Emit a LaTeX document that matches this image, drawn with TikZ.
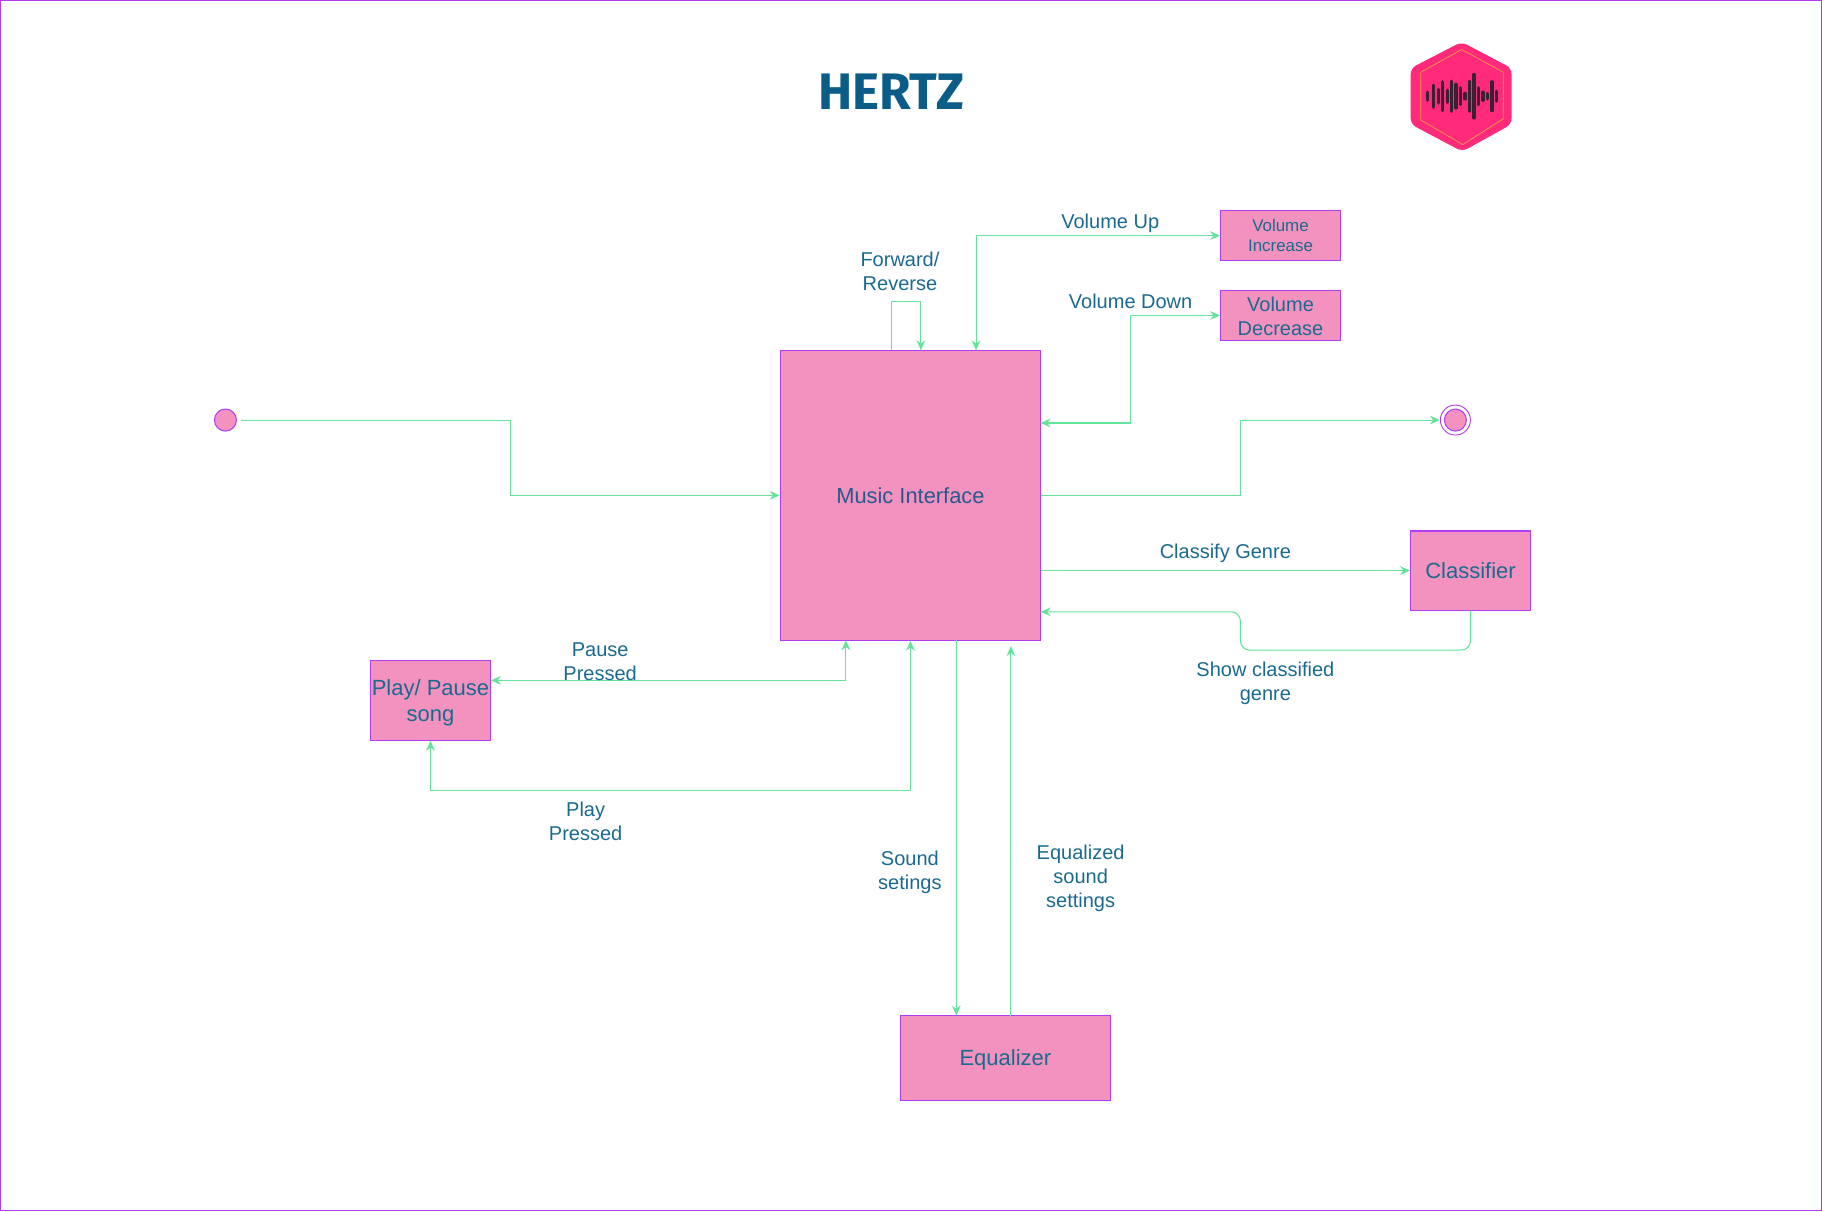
\documentclass[tikz,border=0pt]{standalone}
\usepackage{fontspec}
\setmainfont{Liberation Sans}
\newfontfamily\titlefont{Fira Sans}
\usetikzlibrary{arrows.meta}
\definecolor{pinkfill}{HTML}{F492BF}
\definecolor{purpleline}{HTML}{B03DF2}
\definecolor{greenline}{HTML}{66E39B}
\definecolor{textblue}{HTML}{1A6A8F}
\definecolor{mainblue}{HTML}{27598F}
\definecolor{titleblue}{HTML}{0B5C87}
\definecolor{logopink}{HTML}{FF2A7A}
\definecolor{logoorange}{HTML}{F0924A}
\definecolor{logodark}{HTML}{3A2032}
\tikzset{
  boxnode/.style={draw=purpleline,fill=pinkfill,line width=0.8pt,inner sep=0pt,align=center,text=textblue},
  dotnode/.style={circle,draw=purpleline,fill=pinkfill,line width=0.8pt,inner sep=0pt},
  lab/.style={align=center,text=textblue,inner sep=0pt,font=\fontsize{15}{18}\selectfont},
  conn/.style={draw=greenline,line width=0.8pt,-{Stealth[length=7.5pt,width=6.5pt]}},
  connboth/.style={draw=greenline,line width=0.8pt,{Stealth[length=7.5pt,width=6.5pt]}-{Stealth[length=7.5pt,width=6.5pt]}},
}
\begin{document}
\begin{tikzpicture}[x=0.8715pt,y=-0.8715pt]
\useasboundingbox (0,0) rectangle (1568,1042.2);
\draw[purpleline,line width=0.9pt] (0.5,0.5) rectangle (1567.5,1041.7);

\node[inner sep=0pt,text=titleblue,font=\titlefont\bfseries\fontsize{38.5}{42}\selectfont] (title) at (767,78.5) {HERTZ};

% logo
\begin{scope}[shift={(1257.3,82.8)},x=0.25pt,y=-0.25pt]
  \fill[logopink,rounded corners=4.5pt] (2,-163) -- (152,-84) -- (152,84) -- (4,166) -- (-151,84) -- (-151,-84) -- cycle;
  \draw[logoorange,line width=0.6pt] (2,-140) -- (127,-72) -- (127,68) -- (5,145) -- (-121,71) -- (-121,-72) -- cycle;
  \foreach \bx/\bh in {-100/12,-83/33,-68/20,-55/43,-41/18,-28/45,-15/35,-2/25,12/8,25/45,39/65,53/25,66/12,79/8,93/43,106/15}{
    \draw[logodark,line width=2.5pt,line cap=round] (\bx,-\bh) -- (\bx,\bh);
  }
\end{scope}

% nodes
\node[boxnode,minimum width=195.2pt,minimum height=217.4pt,font=\fontsize{16.4}{20}\selectfont,text=mainblue] (main) at (783.5,426.25) {Music Interface};
\node[boxnode,minimum width=89.8pt,minimum height=37pt,font=\fontsize{12.7}{15}\selectfont] (vinc) at (1102,202.75) {Volume\\Increase};
\node[boxnode,minimum width=89.8pt,minimum height=37.5pt,font=\fontsize{15}{18}\selectfont] (vdec) at (1102,271.5) {\rule{0pt}{12.4pt}Volume\\Decrease};
\node[boxnode,minimum width=89.8pt,minimum height=59.3pt,font=\fontsize{16.5}{20}\selectfont] (classifier) at (1265.5,491) {Classifier};
\node[boxnode,minimum width=89.8pt,minimum height=59.7pt,font=\fontsize{16.5}{19.6}\selectfont] (play) at (370.5,602.75) {\rule{0pt}{16.2pt}Play/ Pause\\song};
\node[boxnode,minimum width=157.3pt,minimum height=63.6pt,font=\fontsize{16.5}{20}\selectfont,text depth=0pt] (eq) at (865.25,910.5) {Equalizer};
\node[dotnode,minimum size=16.5pt] (start) at (194,361.5) {};
\node[dotnode,minimum size=16.5pt] (endin) at (1252.5,361.5) {};
\node[circle,draw=purpleline,line width=0.7pt,inner sep=0pt,minimum size=22.5pt] (endout) at (1252.5,361.5) {};

% attachment points
\coordinate (startout) at (207,361.5);
\coordinate (mainfa) at (767,301.5);
\coordinate (mainfb) at (792.5,301.5);
\coordinate (mainup) at (840,301.5);
\coordinate (maindown) at (895.5,364);
\coordinate (mainclass) at (895.5,491);
\coordinate (mainshow) at (895.5,526.5);
\coordinate (mainpause) at (728,551);
\coordinate (mainsound) at (823,551);
\coordinate (maineq) at (870,556);
\coordinate (eqsound) at (823,874);
\coordinate (eqeq) at (870,874);

% connectors
\draw[conn] (startout) -- (439.5,361.5) -- (439.5,426.25) -- (main.west);
\draw[conn] (main.east) -- (1067.5,426.25) -- (1067.5,361.5) -- (endout.west);
\draw[conn] (mainclass) -- (classifier.west);
\draw[conn,rounded corners=7pt] (classifier.south) -- (1265.5,559.5) -- (1067.5,559.5) -- (1067.5,526.5) -- (mainshow);
\draw[conn] (mainfa) -- (767,259.5) -- (792.5,259.5) -- (mainfb);
\draw[connboth] (mainup) -- (840,202.75) -- (vinc.west);
\draw[connboth] (maindown) -- (973,364) -- (973,271.5) -- (vdec.west);
\draw[connboth] (play.east |- 0,585.5) -- (728,585.5) -- (mainpause);
\draw[connboth] (play.south) -- (370.5,680) -- (783.5,680) -- (main.south);
\draw[conn] (mainsound) -- (eqsound);
\draw[conn] (eqeq) -- (maineq);

% labels
\node[lab] (lvu) at (955.5,192) {Volume Up};
\node[lab] (lfr) at (774.5,233.7) {Forward/\\Reverse};
\node[lab] (lvd) at (973,259.5) {Volume Down};
\node[lab] (lcg) at (1054.5,476) {Classify Genre};
\node[lab] (lsc) at (1089,588) {Show classified\\genre};
\node[lab] (lpp) at (516.5,569.7) {Pause\\Pressed};
\node[lab] (lpl) at (504,706.5) {Play\\Pressed};
\node[lab] (lss) at (783,751) {Sound\\setings};
\node[lab] (les) at (930,756) {Equalized\\sound\\settings};
\end{tikzpicture}
\end{document}
